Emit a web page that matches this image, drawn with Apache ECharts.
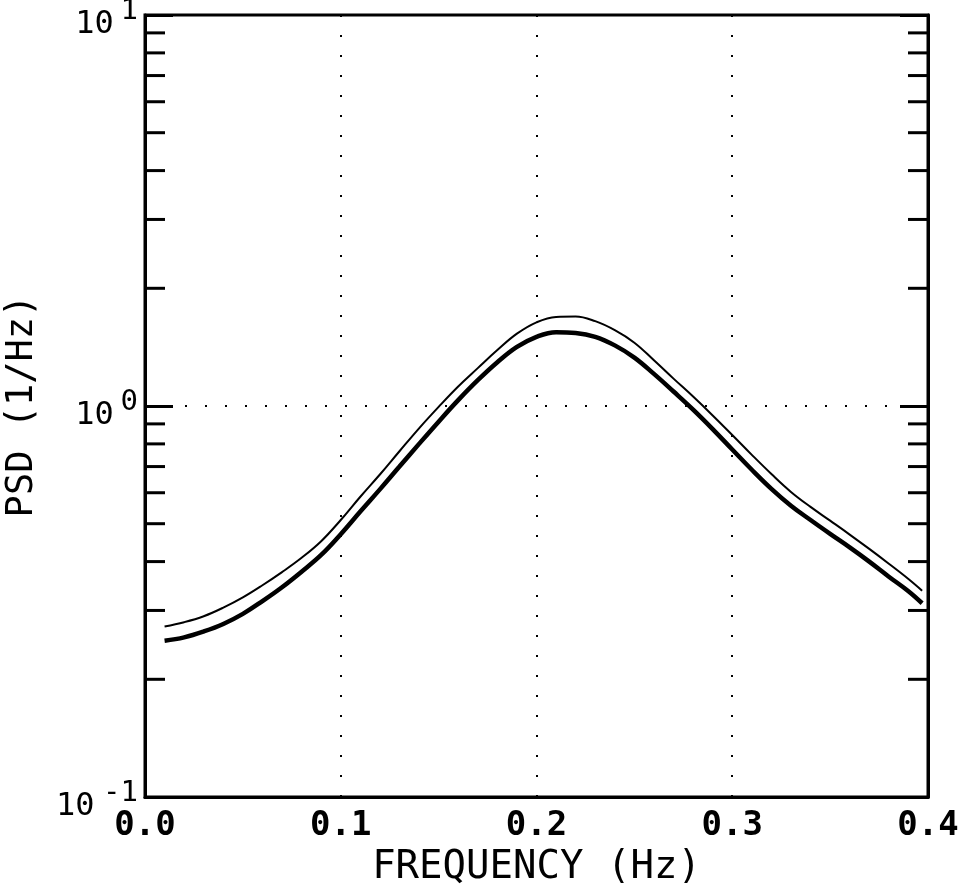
<!DOCTYPE html>
<html>
<head>
<meta charset="utf-8">
<script src="https://cdn.jsdelivr.net/npm/echarts@6/dist/echarts.min.js"></script>
<style>html,body{margin:0;padding:0;background:#fff;}#c{width:970px;height:892px;}</style>
</head>
<body>
<div id="c"></div>
<script>
// Frequency samples (Hz)
var freq = [0.01,0.02,0.03,0.04,0.05,0.06,0.07,0.08,0.09,0.10,0.11,0.12,0.13,0.14,0.15,0.16,0.17,0.18,0.19,0.20,0.21,0.22,0.23,0.24,0.25,0.26,0.27,0.28,0.29,0.30,0.31,0.32,0.33,0.34,0.35,0.36,0.37,0.38,0.39,0.397];
// Upper (thin) curve PSD (1/Hz)
var thinPSD = [0.273,0.280,0.290,0.305,0.324,0.348,0.376,0.409,0.451,0.511,0.586,0.668,0.766,0.877,0.995,1.122,1.250,1.390,1.531,1.637,1.690,1.694,1.648,1.563,1.452,1.309,1.175,1.057,0.946,0.843,0.750,0.670,0.603,0.552,0.509,0.469,0.431,0.395,0.361,0.337];
// Lower (thick) curve PSD (1/Hz)
var thickPSD = [0.251,0.256,0.265,0.277,0.294,0.317,0.344,0.377,0.416,0.470,0.537,0.612,0.700,0.800,0.912,1.035,1.164,1.294,1.416,1.503,1.545,1.538,1.503,1.429,1.330,1.208,1.089,0.979,0.873,0.774,0.687,0.614,0.556,0.511,0.471,0.435,0.400,0.366,0.336,0.313];
// Minor tick positions on the log axis
var minorTickValues = [0.2,0.3,0.4,0.5,0.6,0.7,0.8,0.9,2,3,4,5,6,7,8,9];
var xTickInfo = {min:0, max:0.4, interval:0.1};
var yRange = {min:0.1, max:10};
var xTitle = 'FREQUENCY (Hz)';
var yTitle = 'PSD (1/Hz)';

var font = '"DejaVu Sans Mono", monospace';
var chart = echarts.init(document.getElementById('c'));
function expOf(v) { return String(Math.round(Math.log10(v))); }
function zip(xs, ys) { return xs.map(function (x, i) { return [x, ys[i]]; }); }

chart.setOption({
  animation: false,
  backgroundColor: '#fff',
  grid: {left: 145, right: 42, top: 15, bottom: 95, outerBoundsMode: 'none', containLabel: false,
    show: true, borderColor: '#000', borderWidth: 3, backgroundColor: 'transparent'},
  xAxis: {
    type: 'value', min: xTickInfo.min, max: xTickInfo.max, interval: xTickInfo.interval,
    name: xTitle, nameLocation: 'middle', nameGap: 45,
    nameTextStyle: {fontFamily: font, fontSize: 39, color: '#000'},
    axisLine: {show: true, lineStyle: {color: '#000', width: 3}},
    axisTick: {show: false},
    axisLabel: {fontFamily: font, fontSize: 34, fontWeight: 'bold', color: '#000', margin: 12,
      formatter: function (v) { return v.toFixed(1); }},
    splitLine: {show: true, lineStyle: {color: '#000', width: 2, type: [2, 18]}}
  },
  yAxis: [{
    type: 'log', logBase: 10, min: yRange.min, max: yRange.max, interval: 1,
    name: yTitle, nameLocation: 'middle', nameGap: 104, nameRotate: 90,
    nameTextStyle: {fontFamily: font, fontSize: 37, color: '#000'},
    axisLine: {show: true, lineStyle: {color: '#000', width: 3}},
    axisTick: {show: true, inside: true, length: 28, lineStyle: {color: '#000', width: 3}},
    axisLabel: {fontFamily: font, fontSize: 32, color: '#000', margin: 12,
      verticalAlign: 'top', lineHeight: 20,
      formatter: function (v) { return '10' + ' '.repeat(expOf(v).length); }},
    splitLine: {show: true, lineStyle: {color: '#000', width: 2, type: [2, 18]}}
  }, {
    type: 'log', logBase: 10, min: yRange.min, max: yRange.max, interval: 1, position: 'right',
    axisLine: {show: true, lineStyle: {color: '#000', width: 3}},
    axisTick: {show: true, inside: true, length: 28, lineStyle: {color: '#000', width: 3}},
    axisLabel: {show: false},
    splitLine: {show: false}
  }, {
    type: 'log', logBase: 10, min: yRange.min, max: yRange.max, interval: 1, position: 'left',
    axisLine: {show: false}, axisTick: {show: false}, splitLine: {show: false},
    axisLabel: {fontFamily: font, fontSize: 29, color: '#000', margin: 7,
      verticalAlign: 'bottom', lineHeight: 8,
      formatter: function (v) { return expOf(v); }}
  }],
  series: [{
    type: 'custom', xAxisIndex: 0, yAxisIndex: 0, silent: true, clip: false,
    data: minorTickValues.map(function (v) { return [0, v]; }),
    encode: {x: 0, y: 1},
    renderItem: function (params, api) {
      var p = api.coord([0, api.value(1)]);
      var cs = params.coordSys;
      var st = {stroke: '#000', lineWidth: 3};
      return {type: 'group', children: [
        {type: 'line', shape: {x1: cs.x, y1: p[1], x2: cs.x + 20, y2: p[1]}, style: st},
        {type: 'line', shape: {x1: cs.x + cs.width - 20, y1: p[1], x2: cs.x + cs.width, y2: p[1]}, style: st}
      ]};
    },
    z: 5
  }, {
    name: 'thin', type: 'line', yAxisIndex: 0, data: zip(freq, thinPSD), showSymbol: false, smooth: 0.4,
    lineStyle: {color: '#000', width: 2}, z: 4
  }, {
    name: 'thick', type: 'line', yAxisIndex: 0, data: zip(freq, thickPSD), showSymbol: false, smooth: 0.4,
    lineStyle: {color: '#000', width: 4.5}, z: 4
  }]
});
</script>
</body>
</html>
